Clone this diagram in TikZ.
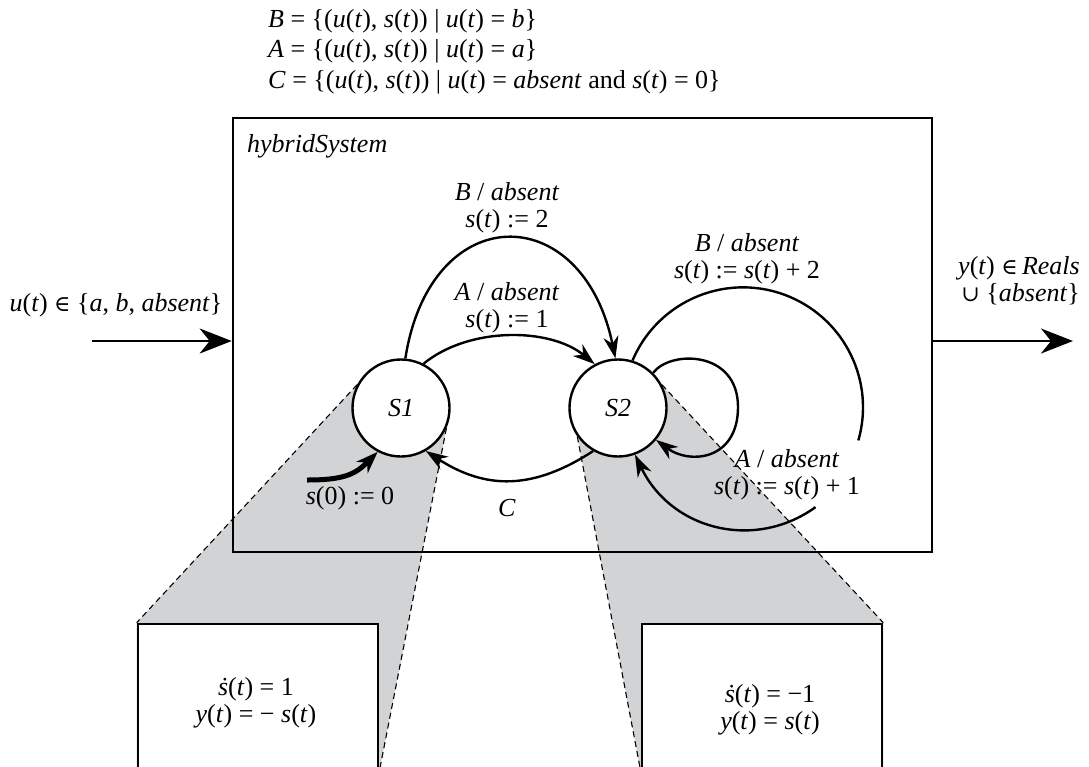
\documentclass[tikz,border=0pt]{standalone}
\usepackage{fontspec}
\setmainfont{Liberation Serif}
\newfontfamily\symf[Scale=0.85]{DejaVu Serif}
\usetikzlibrary{arrows.meta,backgrounds}
\definecolor{wedge}{RGB}{210,211,213}
\newcommand\iv[1]{\textit{#1}}
\newcommand\fn[1]{\textit{#1}(\textit{t})}
\newcommand\elem{{\symf ∈}}
\newcommand\unionsym{{\symf ∪}}
\newcommand\sdot{\textit{\.{s}}}
\begin{document}
\begin{tikzpicture}[x=1pt,y=1pt,
  every node/.style={font=\fontsize{26}{27}\selectfont, inner sep=0pt},
  state/.style={circle, draw, line width=2.4pt, fill=white, minimum size=97pt},
  frame/.style={draw, line width=2.6pt},
  lowbox/.style={draw, line width=2.6pt, fill=white, minimum width=240pt, minimum height=146pt},
  tr/.style={line width=2.4pt, -{Stealth[length=22pt,width=15pt,inset=7pt]}},
  trplain/.style={line width=2.4pt},
  io/.style={line width=2.6pt, -{Stealth[length=32pt,width=25pt,inset=10pt]}},
  dashline/.style={line width=1.1pt, dash pattern=on 6pt off 4pt},
  lbl/.style={align=center}
]
\clip (0,0) rectangle (1089,-766);

% frame of hybrid system
\node[frame, minimum width=699pt, minimum height=434pt] (hs) at (582.5,-335) {};
\node[anchor=base west] (hsname) at (247,-152) {\iv{hybridSystem}};

% refinement boxes
\node[lowbox] (lb) at (258,-697) {};
\node[lowbox] (rb) at (762,-697) {};
\node[lbl] (lbt) at (256,-703) {\sdot(\iv{t}) = 1\\\fn{y} = − \fn{s}};
\node[lbl] (rbt) at (770,-710) {\sdot(\iv{t}) = −1\\\fn{y} = \fn{s}};

% states
\node[state] (S1) at (401,-408) {\iv{S1}};
\node[state] (S2) at (618,-408) {\iv{S2}};

% wedges
\begin{pgfonlayer}{background}
  \fill[wedge] (S1.152) -- (lb.north west) -- (lb.south west) -- (lb.south east) -- (S1.-24) -- cycle;
  \fill[wedge] (S2.215) -- (rb.south west) -- (rb.south east) -- (rb.north east) -- (S2.28) -- cycle;
  \draw[dashline] (S1.152) -- (lb.north west);
  \draw[dashline] (S1.-24) -- (lb.south east);
  \draw[dashline] (S2.215) -- (rb.south west);
  \draw[dashline] (S2.28) -- (rb.north east);
\end{pgfonlayer}

% top definitions
\node[anchor=base west] (defB) at (268,-27) {\iv{B} = \{(\fn{u}, \fn{s}) | \fn{u} = \iv{b}\}};
\node[anchor=base west] (defA) at (268,-57) {\iv{A} = \{(\fn{u}, \fn{s}) | \fn{u} = \iv{a}\}};
\node[anchor=base west] (defC) at (268,-88) {\iv{C} = \{(\fn{u}, \fn{s}) | \fn{u} = \iv{absent} and \fn{s} = 0\}};

% input / output
\coordinate (inp) at (92,-341);
\coordinate (outp) at (1073,-341);
\draw[io] (inp) -- (inp -| hs.west);
\draw[io] (hs.east |- outp) -- (outp);
\node (inlbl) at (116,-305) {\fn{u} \elem\ \{\iv{a}, \iv{b}, \iv{absent}\}};
\node[anchor=east, align=right] (outlbl) at (1080,-281) {\fn{y} \elem\,\iv{Reals}\\\unionsym\ \{\iv{absent}\}};

% transitions S1 -> S2
\draw[tr] (S1.85) .. controls +(25,160) and +(-33,160) .. (S2.93);
\node[lbl] (lB) at (507,-208) {\iv{B} / \iv{absent}\\\fn{s} := 2};
\draw[tr] (S1.63) .. controls +(45,37) and +(-45,37) .. (S2.118);
\node[lbl] (lA) at (507,-308) {\iv{A} / \iv{absent}\\\fn{s} := 1};

% transition S2 -> S1
\draw[tr] (S2.-120) .. controls +(-60,-39) and +(60,-39) .. (S1.-60);
\node (lC) at (507,-508) {\iv{C}};

% initial
\coordinate (init) at (307,-480);
\draw[line width=5pt, -{Stealth[length=22pt,width=16pt,inset=7pt]}] (init) .. controls +(38,0) and +(-22,-22) .. (S1.-118);
\node (linit) at (350,-498) {\iv{s}(0) := 0};

% small self loop
\draw[tr] (S2.45) .. controls (670,-350) and (738,-350) .. (738,-407)
          .. controls (738,-460) and (690,-465) .. (S2.-40);

% big self loop (interrupted by label)
\draw[trplain] (S2.73) arc[start angle=157, end angle=-16, radius=120] coordinate (g1);
\coordinate (g2) at (815.5,-507.1);
\draw[tr] (g2) .. controls +(-59.7,-43.4) and +(36.7,-76.3) .. (S2.-70);
\node[lbl] (lB2) at (747,-259) {\iv{B} / \iv{absent}\\\fn{s} := \fn{s} + 2};
\node[lbl] (lA2) at (787,-475) {\iv{A} / \iv{absent}\\\fn{s} := \fn{s} + 1};
\end{tikzpicture}
\end{document}
